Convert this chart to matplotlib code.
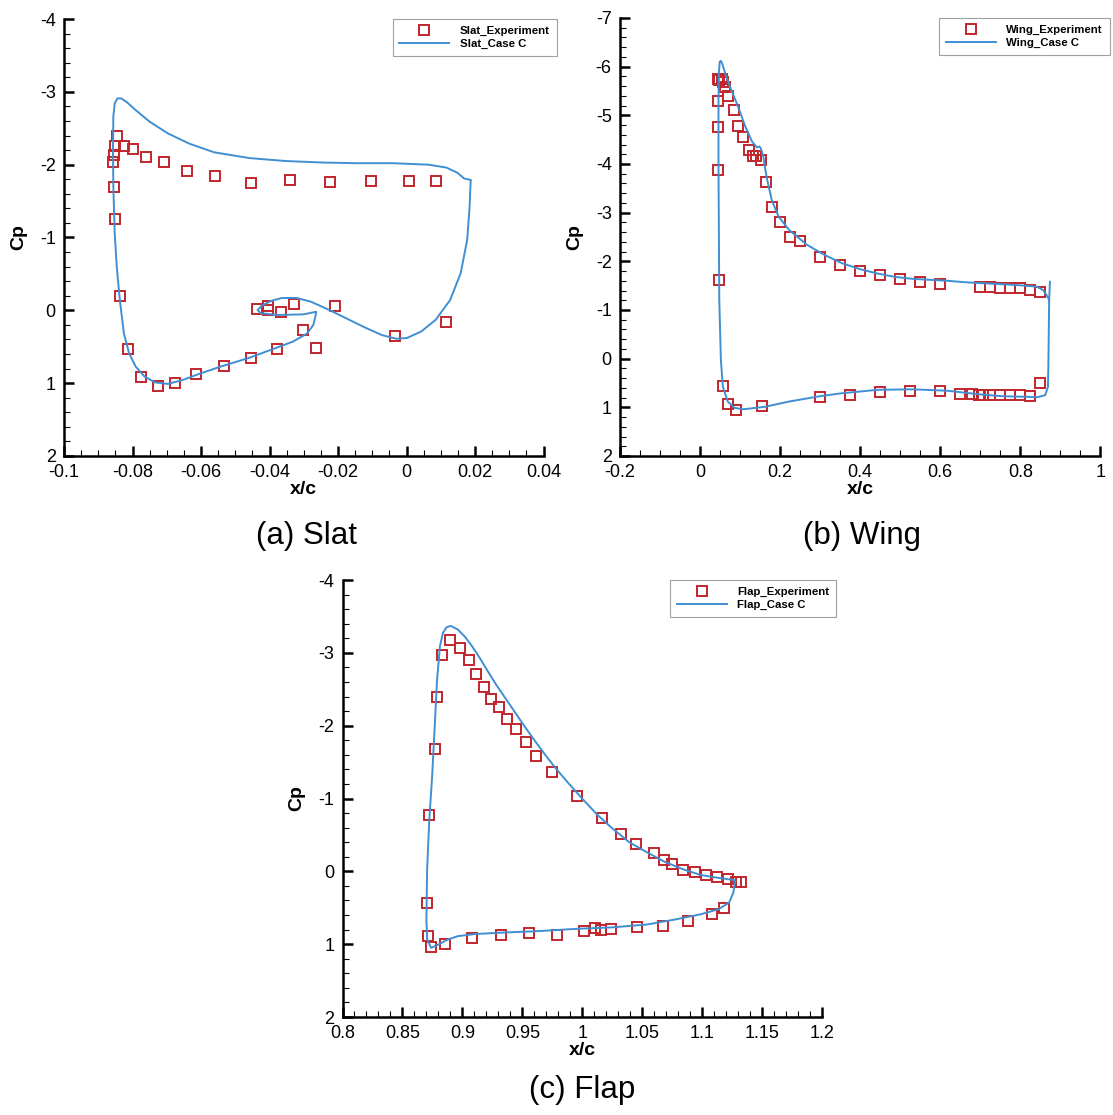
import matplotlib
matplotlib.use('Agg')
import matplotlib.pyplot as plt
from matplotlib.ticker import MultipleLocator, FuncFormatter

plt.rcParams['font.family'] = ['Liberation Sans', 'DejaVu Sans']
plt.rcParams['axes.unicode_minus'] = False

# ---- slat ----
slat_exp_x = [-0.0856, -0.0854, -0.0852, -0.0844, -0.0826, -0.0799, -0.0762, -0.0708,
              -0.0641, -0.0558, -0.0454, -0.0340, -0.0223, -0.0104, 0.0008, 0.0086,
              -0.0854, -0.0851, -0.0836, -0.0814, -0.0775, -0.0725, -0.0675, -0.0616,
              -0.0534, -0.0454, -0.0378, -0.0303, -0.0264,
              -0.0437, -0.0405, -0.0405, -0.0366, -0.0330, -0.0209, -0.0035, 0.0115]
slat_exp_y = [-2.03, -2.13, -2.26, -2.40, -2.26, -2.22, -2.11, -2.04,
              -1.91, -1.85, -1.75, -1.79, -1.76, -1.78, -1.77, -1.77,
              -1.70, -1.26, -0.20, 0.53, 0.91, 1.04, 1.00, 0.87,
              0.76, 0.65, 0.53, 0.27, 0.52,
              -0.02, -0.06, -0.005, 0.02, -0.09, -0.06, 0.35, 0.16]
slat_cfd_x = [0.0187, 0.0168, 0.0148, 0.0116, 0.0064, -0.0040, -0.0145, -0.0249, -0.0353,
              -0.0458, -0.0562, -0.0635, -0.0697, -0.0750, -0.0791, -0.0817, -0.0833,
              -0.0844, -0.0852, -0.0856, -0.0857, -0.0856, -0.0852, -0.0846, -0.0837,
              -0.0825, -0.0810, -0.0791, -0.0765, -0.0734, -0.0697, -0.0656, -0.0604,
              -0.0541, -0.0458, -0.0395, -0.0332, -0.0291, -0.0272, -0.0265, -0.0264,
              -0.0301, -0.0374, -0.0426, -0.0435, -0.0421, -0.0395, -0.0364, -0.0322,
              -0.0280, -0.0228, -0.0176, -0.0124, -0.0072, -0.0030, 0.0001, 0.0043,
              0.0085, 0.0127, 0.0158, 0.0177, 0.0184, 0.0187]
slat_cfd_y = [-1.79, -1.81, -1.89, -1.96, -2.00, -2.02, -2.02, -2.03, -2.05,
              -2.09, -2.17, -2.29, -2.43, -2.59, -2.75, -2.86, -2.91,
              -2.91, -2.84, -2.66, -2.20, -1.70, -1.06, -0.60, -0.14,
              0.32, 0.59, 0.77, 0.91, 0.99, 1.01, 0.96, 0.87,
              0.77, 0.65, 0.54, 0.43, 0.32, 0.20, 0.06, 0.02,
              0.055, 0.064, 0.04, -0.005, -0.07, -0.13, -0.17, -0.17,
              -0.12, -0.01, 0.11, 0.23, 0.34, 0.39, 0.38, 0.29,
              0.13, -0.14, -0.51, -0.97, -1.42, -1.77]

# ---- wing ----
wing_exp_x = [0.044, 0.048, 0.054, 0.057, 0.062, 0.069, 0.084, 0.094, 0.106, 0.122,
              0.131, 0.140, 0.151, 0.164, 0.179, 0.200, 0.225, 0.249, 0.300, 0.349,
              0.399, 0.449, 0.500, 0.549, 0.599, 0.700, 0.724, 0.749, 0.774, 0.799,
              0.825, 0.848,
              0.045, 0.044, 0.045, 0.048, 0.057, 0.070, 0.089, 0.154, 0.300, 0.374,
              0.449, 0.525, 0.599, 0.649, 0.679, 0.698, 0.707, 0.725, 0.749, 0.774,
              0.800, 0.825, 0.848]
wing_exp_y = [-5.75, -5.73, -5.74, -5.69, -5.59, -5.40, -5.11, -4.79, -4.56, -4.29,
              -4.17, -4.16, -4.08, -3.63, -3.12, -2.80, -2.51, -2.42, -2.08, -1.92,
              -1.81, -1.71, -1.64, -1.58, -1.53, -1.47, -1.47, -1.45, -1.45, -1.45,
              -1.42, -1.38,
              -5.30, -4.75, -3.88, -1.62, 0.56, 0.94, 1.05, 0.98, 0.78, 0.74,
              0.68, 0.66, 0.67, 0.72, 0.73, 0.74, 0.75, 0.75, 0.75, 0.75,
              0.75, 0.77, 0.50]
wing_cfd_x = [0.874, 0.872, 0.871, 0.870, 0.869, 0.862, 0.844, 0.796, 0.752, 0.707,
              0.663, 0.619, 0.531, 0.443, 0.355, 0.300, 0.223, 0.161, 0.108, 0.086,
              0.069, 0.057, 0.052, 0.048, 0.047, 0.046, 0.046, 0.047, 0.049, 0.052,
              0.055, 0.064, 0.078, 0.095, 0.113, 0.130, 0.142, 0.148, 0.152, 0.158,
              0.166, 0.179, 0.196, 0.223, 0.267, 0.311, 0.355, 0.399, 0.443, 0.487,
              0.531, 0.575, 0.619, 0.663, 0.707, 0.752, 0.796, 0.841, 0.857, 0.868,
              0.872]
wing_cfd_y = [-1.58, -1.21, -0.52, 0.16, 0.58, 0.75, 0.79, 0.78, 0.77, 0.74,
              0.70, 0.66, 0.63, 0.64, 0.71, 0.77, 0.88, 0.99, 1.04, 1.01,
              0.88, 0.58, 0.03, -1.21, -2.58, -3.95, -5.32, -5.86, -6.10, -6.12,
              -6.07, -5.83, -5.52, -5.18, -4.77, -4.46, -4.34, -4.36, -4.32, -4.15,
              -3.74, -3.26, -2.92, -2.64, -2.34, -2.13, -1.96, -1.84, -1.75, -1.68,
              -1.64, -1.62, -1.60, -1.57, -1.55, -1.53, -1.51, -1.48, -1.41, -1.27,
              -1.21]

# ---- flap ----
flap_exp_x = [0.8706, 0.8712, 0.8742, 0.8724, 0.8768, 0.8789, 0.8831, 0.8894, 0.8977,
              0.9054, 0.9117, 0.9179, 0.9239, 0.9302, 0.9370, 0.9445, 0.9528, 0.9617,
              0.9748, 0.9954, 1.0162, 1.0320, 1.0448, 1.0597, 1.0681, 1.0752, 1.0844,
              1.0940, 1.1035, 1.1127, 1.1220, 1.1285, 1.1321,
              0.8852, 0.9081, 0.9319, 0.9558, 0.9787, 1.0016, 1.0103, 1.0153, 1.0240,
              1.0460, 1.0672, 1.0880, 1.1086, 1.1184]
flap_exp_y = [0.43, 0.89, 1.04, -0.78, -1.68, -2.40, -2.97, -3.18, -3.07,
              -2.90, -2.71, -2.53, -2.37, -2.26, -2.09, -1.95, -1.78, -1.59,
              -1.37, -1.04, -0.73, -0.51, -0.37, -0.25, -0.16, -0.10, -0.02,
              0.01, 0.05, 0.08, 0.11, 0.14, 0.15,
              1.00, 0.91, 0.87, 0.85, 0.87, 0.82, 0.78, 0.81, 0.79,
              0.77, 0.75, 0.68, 0.58, 0.50]
flap_cfd_x = [1.1270, 1.1136, 1.0987, 1.0838, 1.0689, 1.0541, 1.0392, 1.0243, 1.0124,
              1.0004, 0.9885, 0.9766, 0.9677, 0.9588, 0.9498, 0.9424, 0.9349, 0.9275,
              0.9200, 0.9141, 0.9081, 0.9022, 0.8962, 0.8902, 0.8867, 0.8837, 0.8813,
              0.8789, 0.8768, 0.8748, 0.8724, 0.8706, 0.8700, 0.8706, 0.8739, 0.8783,
              0.8873, 0.8962, 0.9111, 0.9349, 0.9647, 0.9945, 1.0243, 1.0541, 1.0779,
              1.0987, 1.1136, 1.1225, 1.1261, 1.1273, 1.1270]
flap_cfd_y = [0.12, 0.09, 0.05, -0.03, -0.13, -0.26, -0.40, -0.60, -0.78,
              -0.99, -1.21, -1.44, -1.63, -1.83, -2.04, -2.22, -2.40, -2.58,
              -2.78, -2.94, -3.09, -3.22, -3.32, -3.37, -3.35, -3.27, -3.09,
              -2.63, -1.95, -1.31, -0.71, -0.03, 0.66, 0.93, 1.05, 1.02,
              0.94, 0.89, 0.86, 0.84, 0.82, 0.79, 0.77, 0.73, 0.66,
              0.59, 0.52, 0.43, 0.29, 0.15, 0.12]

line_col = '#3f8fd2'
mark_col = '#c0262c'

W, H = 1113, 1115
fig = plt.figure(figsize=(W / 100, H / 100), dpi=100)


def make_ax(l, r, t, b):
    return fig.add_axes([l / W, 1 - b / H, (r - l) / W, (b - t) / H])


def gfmt(v, pos):
    return '%g' % (round(v, 4) + 0.0)


def style(ax, xlim, xmaj, xmin, ylim, leg_x):
    ax.set_xlim(*xlim)
    ax.set_ylim(ylim[1], ylim[0])
    ax.xaxis.set_major_locator(MultipleLocator(xmaj))
    ax.xaxis.set_minor_locator(MultipleLocator(xmin))
    ax.yaxis.set_major_locator(MultipleLocator(1))
    ax.yaxis.set_minor_locator(MultipleLocator(0.2))
    ax.xaxis.set_major_formatter(FuncFormatter(gfmt))
    ax.yaxis.set_major_formatter(FuncFormatter(gfmt))
    for s in ['top', 'right']:
        ax.spines[s].set_visible(False)
    for s in ['left', 'bottom']:
        ax.spines[s].set_linewidth(1.8)
    ax.tick_params(which='major', direction='in', length=7.5, width=1.8,
                   labelsize=13, pad=6)
    ax.tick_params(which='minor', direction='in', length=4, width=0.8)
    ax.set_xlabel('x/c', fontsize=14, fontweight='bold', labelpad=0)
    ax.set_ylabel('Cp', fontsize=14, fontweight='bold')
    ax.yaxis.set_label_coords(-0.077, 0.5)
    leg = ax.legend(loc='upper right', frameon=True, fancybox=False,
                    edgecolor='#888888', borderpad=0.6, handlelength=4.4,
                    handletextpad=0.9, labelspacing=0.25, borderaxespad=0,
                    prop={'weight': 'bold', 'size': 8.2},
                    bbox_to_anchor=(leg_x, 1.0))
    leg.get_frame().set_linewidth(0.8)


def draw(ax, ex, ey, cx, cy, name):
    ax.plot(ex, ey, 's', ms=7, mfc='none', mec=mark_col, mew=1.4,
            ls='none', label=name + '_Experiment')
    ax.plot(cx, cy, '-', color=line_col, lw=1.4, label=name + '_Case C')


ax1 = make_ax(64, 543.6, 19, 456)
draw(ax1, slat_exp_x, slat_exp_y, slat_cfd_x, slat_cfd_y, 'Slat')
style(ax1, (-0.1, 0.04), 0.02, 0.005, (-4, 2), 1.027)

ax2 = make_ax(620, 1100.4, 18, 456)
draw(ax2, wing_exp_x, wing_exp_y, wing_cfd_x, wing_cfd_y, 'Wing')
style(ax2, (-0.2, 1.0), 0.2, 0.05, (-7, 2), 1.019)

ax3 = make_ax(342.5, 822, 580, 1017)
draw(ax3, flap_exp_x, flap_exp_y, flap_cfd_x, flap_cfd_y, 'Flap')
style(ax3, (0.8, 1.2), 0.05, 0.01, (-4, 2), 1.029)

fig.text(306 / W, 1 - 536 / H, '(a) Slat', fontsize=22.5, ha='center', va='center')
fig.text(862 / W, 1 - 536 / H, '(b) Wing', fontsize=22.5, ha='center', va='center')
fig.text(582 / W, 1 - 1090 / H, '(c) Flap', fontsize=22.5, ha='center', va='center')

fig.savefig('out.png', dpi=100)
